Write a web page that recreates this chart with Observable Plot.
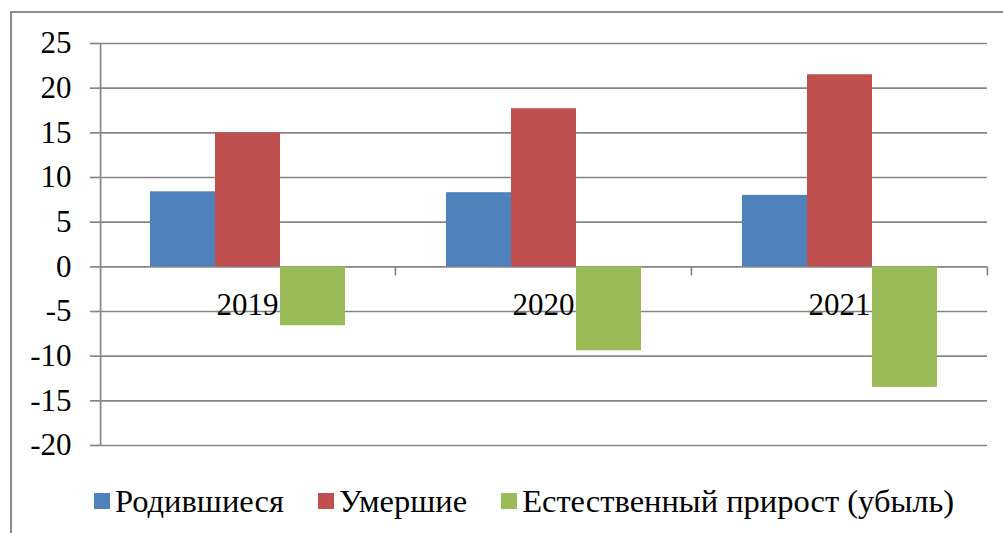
<!DOCTYPE html>
<html>
<head>
<meta charset="utf-8">
<script src="https://cdn.jsdelivr.net/npm/d3@7"></script>
<script src="https://cdn.jsdelivr.net/npm/@observablehq/plot@0.6"></script>
<style>
  html, body { margin: 0; padding: 0; background: #fff; overflow: hidden; }
  #wrap { position: relative; width: 1003px; height: 533px; overflow: hidden; font-family: 'Liberation Serif', 'Times New Roman', serif; }
  #border { position: absolute; left: 10px; top: 11px; width: 1010px; height: 540px; border: 2px solid #8c8c8c; box-sizing: border-box; }
  #chart { position: absolute; left: 0; top: 0; }
  #legend { position: absolute; left: 94px; top: 483px; display: flex; align-items: center; font-size: 32.5px; line-height: 36px; color: #000; white-space: nowrap; }
  #legend .item { display: flex; align-items: center; margin-right: 34px; }
  #legend .sw { width: 16px; height: 16px; margin-right: 5px; }
</style>
</head>
<body>
<div id="wrap">
  <div id="border"></div>
  <div id="chart"></div>
  <div id="legend"></div>
</div>
<script>
const years = ["2019", "2020", "2021"];
const series = ["Родившиеся", "Умершие", "Естественный прирост (убыль)"];
const born = [8.4, 8.3, 8.0];
const died = [15.0, 17.7, 21.5];
const natural = [-6.6, -9.4, -13.5];
const colors = ["#4F81BD", "#C0504D", "#9BBB59"];
const yTicks = [-20, -15, -10, -5, 0, 5, 10, 15, 20, 25];

const rows = years.flatMap((yr, i) => [
  {year: yr, series: series[0], value: born[i]},
  {year: yr, series: series[1], value: died[i]},
  {year: yr, series: series[2], value: natural[i]}
]);

const W = 1003, H = 470, mL = 98, mR = 15, mT = 43, mB = 25;
const padOuter = 0.75;
const facetW = (W - mL - mR) / years.length;
const step = facetW / (series.length + 2 * padOuter);
const edgeOffset = step / 2 + step * padOuter;
const gray = "#868686";

const chart = Plot.plot({
  width: W, height: H,
  marginLeft: mL, marginRight: mR, marginTop: mT, marginBottom: mB,
  style: {fontFamily: "'Liberation Serif', 'Times New Roman', serif", fontSize: "31px", background: "transparent", overflow: "visible", color: "#000"},
  fx: {domain: years, padding: 0, axis: null, label: null},
  x: {domain: series, paddingInner: 0, paddingOuter: padOuter, axis: null, label: null},
  y: {domain: [yTicks[0], yTicks[yTicks.length - 1]], label: null},
  color: {domain: series, range: colors},
  marks: [
    Plot.gridY(yTicks, {stroke: gray, strokeOpacity: 1, strokeWidth: 1.7}),
    Plot.axisY(yTicks, {tickSize: 9, tickPadding: 19, stroke: gray, strokeWidth: 1.7, fill: "#000", tickFormat: d => String(d), label: null}),
    Plot.ruleX([years[0]], {fx: d => d, x: () => series[0], dx: -edgeOffset, stroke: gray, strokeWidth: 1.7}),
    Plot.ruleX(years, {fx: d => d, x: () => series[2], dx: edgeOffset, y1: 0, y2: 0, insetBottom: -9, stroke: gray, strokeWidth: 1.7}),
    Plot.text(years, {fx: d => d, y: 0, text: d => d, dy: 38, fill: "#000"}),
    Plot.barY(rows, {fx: "year", x: "series", y: "value", fill: "series"})
  ]
});
document.getElementById("chart").appendChild(chart);

const legend = document.getElementById("legend");
series.forEach((s, i) => {
  const item = document.createElement("div");
  item.className = "item";
  const sw = document.createElement("span");
  sw.className = "sw";
  sw.style.background = colors[i];
  const t = document.createElement("span");
  t.textContent = s;
  item.appendChild(sw);
  item.appendChild(t);
  legend.appendChild(item);
});
</script>
</body>
</html>
